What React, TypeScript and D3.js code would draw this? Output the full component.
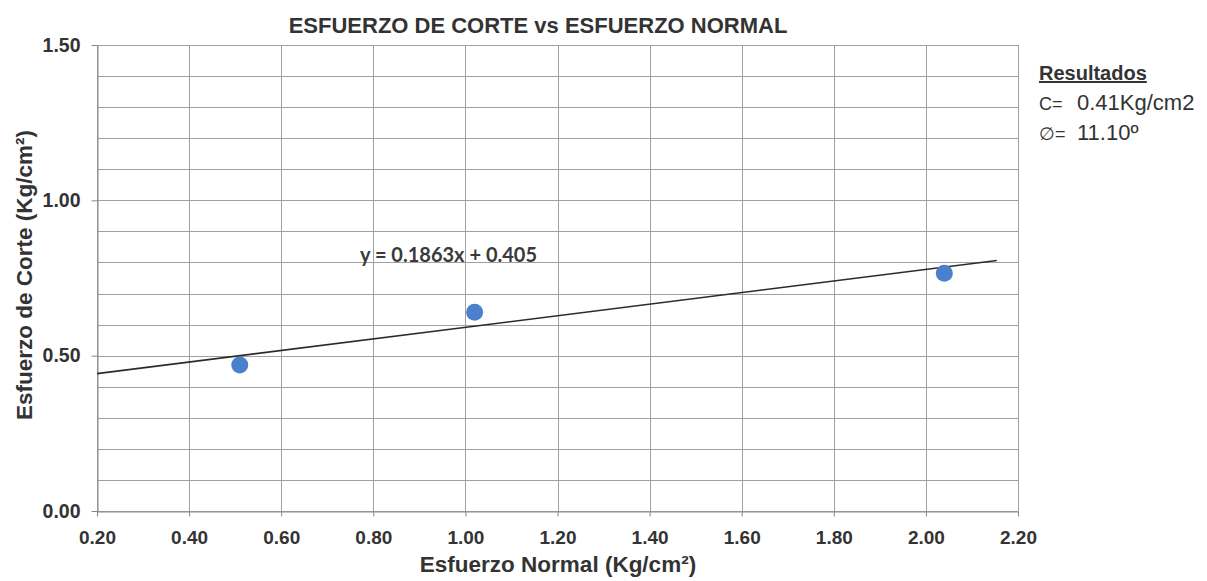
import { useEffect, useRef } from "react";
import * as d3 from "d3";

const normalStress = [0.51, 1.02, 2.04];
const shearStress = [0.47, 0.64, 0.765];
const xTicks = [0.2, 0.4, 0.6, 0.8, 1.0, 1.2, 1.4, 1.6, 1.8, 2.0, 2.2];
const yTicks = [0, 0.5, 1.0, 1.5];
const yGrid = d3.range(0, 16).map((i) => i / 10);
const slope = 0.1863;
const intercept = 0.405;
const trendRange = [0.2, 2.154];
const resultLabels = ["C=", "\u2205="];
const resultValues = ["0.41Kg/cm2", "11.10º"];

const App = () => {
  const svgRef = useRef<SVGSVGElement | null>(null);

  useEffect(() => {
    if (!svgRef.current) return;
    const svg = d3.select(svgRef.current);
    svg.selectAll("*").remove();

    const width = 1207;
    const height = 581;
    const margin = { top: 45, right: 189, bottom: 70, left: 97 };

    const x = d3.scaleLinear().domain([0.2, 2.2]).range([margin.left, width - margin.right]);
    const y = d3.scaleLinear().domain([0, 1.5]).range([height - margin.bottom, margin.top]);

    svg.append("rect").attr("width", width).attr("height", height).attr("fill", "#fff");

    // grid
    const grid = svg.append("g").attr("stroke", "#a0a0a0").attr("stroke-width", 1);
    grid.selectAll("line.h")
      .data(yGrid)
      .join("line")
      .attr("x1", x(0.2))
      .attr("x2", x(2.2))
      .attr("y1", (d) => Math.round(y(d)) + 0.5)
      .attr("y2", (d) => Math.round(y(d)) + 0.5);
    grid.selectAll("line.v")
      .data(xTicks)
      .join("line")
      .attr("x1", (d) => Math.round(x(d)) + 0.5)
      .attr("x2", (d) => Math.round(x(d)) + 0.5)
      .attr("y1", y(1.5))
      .attr("y2", y(0));

    const font = "'Liberation Sans', Arial, sans-serif";

    // x axis
    const xAxis = svg.append("g")
      .attr("transform", `translate(0,${Math.round(y(0)) + 0.5})`)
      .call(d3.axisBottom(x).tickValues(xTicks).tickFormat(d3.format(".2f")).tickSize(5).tickSizeOuter(0));
    xAxis.select(".domain").attr("stroke", "#888");
    xAxis.selectAll(".tick line").attr("stroke", "#888");
    xAxis.selectAll("text")
      .attr("fill", "#333")
      .attr("font-family", font)
      .attr("font-weight", "bold")
      .attr("font-size", 19)
      .attr("y", 32)
      .attr("dy", 0);

    // y axis
    const yAxis = svg.append("g")
      .attr("transform", `translate(${Math.round(x(0.2)) + 0.5},0)`)
      .call(d3.axisLeft(y).tickValues(yTicks).tickFormat(d3.format(".2f")).tickSize(6).tickSizeOuter(0));
    yAxis.select(".domain").attr("stroke", "#888");
    yAxis.selectAll(".tick line").attr("stroke", "#888");
    yAxis.selectAll("text")
      .attr("fill", "#333")
      .attr("font-family", font)
      .attr("font-weight", "bold")
      .attr("font-size", 19.5)
      .attr("x", -17);

    // trendline
    svg.append("line")
      .attr("x1", x(trendRange[0]))
      .attr("y1", y(slope * trendRange[0] + intercept))
      .attr("x2", x(trendRange[1]))
      .attr("y2", y(slope * trendRange[1] + intercept))
      .attr("stroke", "#2b2b2b")
      .attr("stroke-width", 1.6);

    // points
    svg.append("g")
      .selectAll("circle")
      .data(normalStress)
      .join("circle")
      .attr("cx", (d) => x(d))
      .attr("cy", (_, i) => y(shearStress[i]))
      .attr("r", 8.5)
      .attr("fill", "#4a80cc");

    // equation label
    svg.append("text")
      .attr("x", 360)
      .attr("y", 262)
      .attr("font-family", "Lato, 'Open Sans', sans-serif")
      .attr("font-weight", "bold")
      .attr("font-size", 20)
      .attr("fill", "#3a3a3a")
      .text(`y = ${slope}x + ${intercept}`);

    // title
    svg.append("text")
      .attr("x", 538)
      .attr("y", 33)
      .attr("text-anchor", "middle")
      .attr("font-family", font)
      .attr("font-weight", "bold")
      .attr("font-size", 22)
      .attr("fill", "#333")
      .text("ESFUERZO DE CORTE vs ESFUERZO NORMAL");

    // axis titles
    svg.append("text")
      .attr("x", 558)
      .attr("y", 572)
      .attr("text-anchor", "middle")
      .attr("font-family", font)
      .attr("font-weight", "bold")
      .attr("font-size", 22.5)
      .attr("fill", "#333")
      .text("Esfuerzo Normal (Kg/cm²)");

    svg.append("text")
      .attr("transform", `translate(32,275) rotate(-90)`)
      .attr("text-anchor", "middle")
      .attr("font-family", font)
      .attr("font-weight", "bold")
      .attr("font-size", 22.5)
      .attr("fill", "#333")
      .text("Esfuerzo de Corte (Kg/cm²)");

    // results block
    svg.append("text")
      .attr("x", 1039)
      .attr("y", 80)
      .attr("font-family", font)
      .attr("font-weight", "bold")
      .attr("font-size", 20)
      .attr("text-decoration", "underline")
      .attr("fill", "#333")
      .text("Resultados");
    const rows = svg.append("g")
      .selectAll("text")
      .data(resultLabels)
      .join("text")
      .attr("y", (_, i) => 110 + i * 30)
      .attr("font-family", font)
      .attr("fill", "#333");
    rows.append("tspan")
      .attr("x", 1039)
      .attr("font-size", 18)
      .text((d) => d);
    rows.append("tspan")
      .attr("x", 1077)
      .attr("font-size", 22)
      .text((_, i) => resultValues[i]);
  }, []);

  return (
    <svg ref={svgRef} width={1207} height={581} style={{ position: "absolute", left: 0, top: 0 }} />
  );
};

export default App;
